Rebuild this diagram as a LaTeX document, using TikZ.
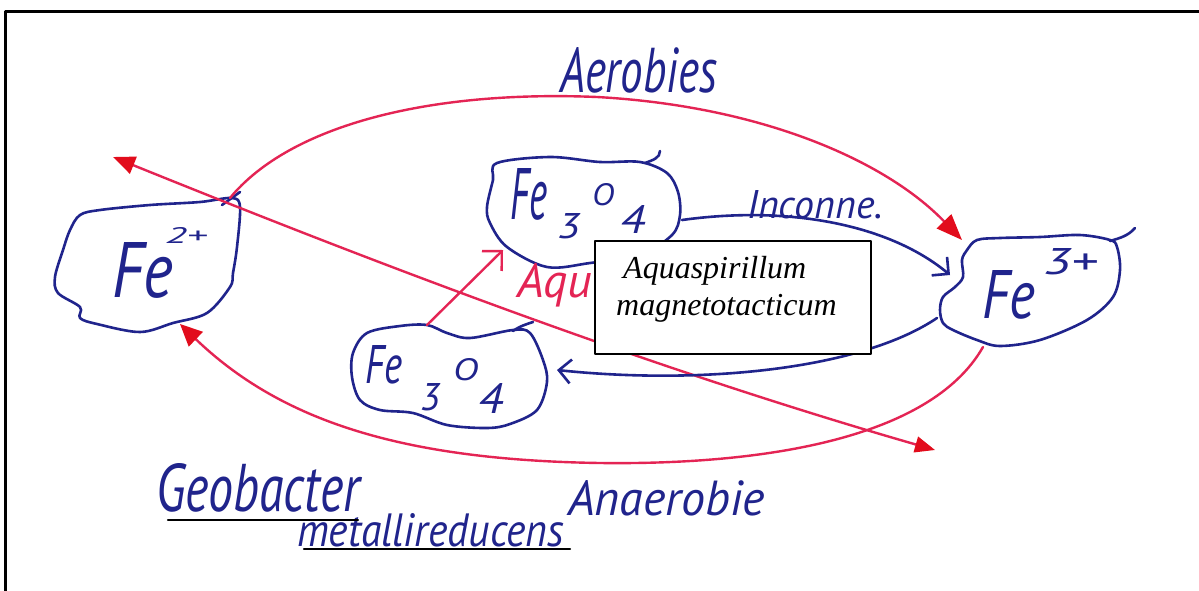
\documentclass[tikz,border=0pt]{standalone}
\usepackage{fontspec}
\usepackage{graphicx}
\usetikzlibrary{arrows.meta}
\newfontfamily\hwfont{PT Sans}
\newfontfamily\boxfont{Liberation Serif}
\definecolor{inkblue}{RGB}{32,36,140}
\definecolor{inkred}{RGB}{228,36,84}
\definecolor{headred}{RGB}{226,12,28}
\newcommand\hwbox[3]{\resizebox{#1}{#2}{\hwfont\itshape #3}}
\begin{document}
\begin{tikzpicture}[x=1pt,y=-1pt,line cap=round,line join=round,
  blob/.style={draw=inkblue,line width=2.6pt},
  hw/.style={inner sep=0pt,outer sep=0pt,anchor=base west,text=inkblue},
  redline/.style={draw=inkred,line width=2.4pt},
  bluline/.style={draw=inkblue,line width=2.6pt},
  fathead/.style={-{Triangle[length=26pt,width=20pt,color=headred]}},
  smallhead/.style={-{Triangle[length=22pt,width=20pt,color=headred]}},
  bothheads/.style={{Triangle[length=22pt,width=18pt,color=headred]}-{Triangle[length=20pt,width=16pt,color=headred]}},
  openhead/.style={-{Straight Barb[length=12pt,width=24pt]}},
  redopen/.style={-{Straight Barb[length=14pt,width=28pt]}},
  uline/.style={draw=black,line width=2.2pt}]
\clip (0,0) rectangle (1199,590);
\fill[white] (0,0) rectangle (1199,590);
\draw[line width=2.6pt] (5.5,11.5) rectangle (1220,610);

% ---------- blobs ----------
\draw[blob] plot[smooth cycle,tension=0.55] coordinates {(80,215) (100,210) (150,205) (200,202) (232,198) (240,207) (237,247) (233,273) (230,287) (207,313) (173,323) (140,332) (97,324) (80,318) (80,307) (58,293) (55,277) (63,250) (70,230)};
\draw[blob] (222,205) -- (240,192);

\draw[blob] plot[smooth cycle,tension=0.55] coordinates {(977,240) (1000,238) (1040,237) (1080,235) (1110,240) (1117,247) (1120,270) (1113,297) (1087,320) (1040,340) (1000,346) (977,340) (953,330) (943,323) (940,310) (943,297) (955,287) (963,277) (962,260) (967,250)};
\draw[blob] (1110,241) .. controls (1120,238) and (1128,236) .. (1135,228);

\draw[blob] plot[smooth cycle,tension=0.55] coordinates {(497,163) (550,157) (600,162) (640,162) (667,173) (678,192) (680,215) (672,235) (640,255) (590,263) (547,267) (507,247) (490,223) (487,207) (493,180)};
\draw[blob] (645,163) .. controls (653,160) and (660,158) .. (660,151);

\draw[blob] plot[smooth cycle,tension=0.55] coordinates {(367,333) (400,326) (427,325) (447,333) (470,338) (513,330) (530,333) (543,360) (547,382) (537,410) (510,424) (487,428) (447,425) (413,413) (380,410) (360,400) (352,377) (353,353)};
\draw[blob] (513,331) .. controls (520,326) and (527,324) .. (533,322);

% ---------- chemical labels ----------
\node[hw] (fe2) at (112,297) {\hwbox{61pt}{55pt}{Fe}};
\node[hw] (fe2c) at (165,243) {\hwbox{42pt}{16pt}{2+}};

\node[hw] (fe3) at (982,318) {\hwbox{53pt}{48pt}{Fe}};
\node[hw] (fe3c) at (1043,274) {\hwbox{54pt}{26pt}{3+}};

\node[hw] (magA) at (510,219) {\hwbox{37pt}{51pt}{Fe}};
\node[hw] (magA3) at (557,238) {\hwbox{23pt}{25pt}{3}};
\node[hw] (magAO) at (592,205) {\hwbox{22pt}{22pt}{O}};
\node[hw] (magA4) at (620,233) {\hwbox{25pt}{28pt}{4}};

\node[hw] (magB) at (365,383) {\hwbox{37pt}{38pt}{Fe}};
\node[hw] (magB3) at (420,410) {\hwbox{20pt}{27pt}{3}};
\node[hw] (magBO) at (453,380) {\hwbox{25pt}{22pt}{O}};
\node[hw] (magB4) at (478,413) {\hwbox{25pt}{30pt}{4}};

% ---------- connector end points ----------
\coordinate (fe2-ne) at (230,198);
\coordinate (fe2-s) at (180,324);
\coordinate (fe2-far) at (113,157);
\coordinate (fe3-n) at (962,240);
\coordinate (fe3-w) at (950,275);
\coordinate (fe3-sw) at (937,318);
\coordinate (fe3-s) at (983,347);
\coordinate (far-se) at (935,450);
\coordinate (magA-e) at (682,220);
\coordinate (magA-sw) at (503,250);
\coordinate (magB-n) at (427,325);
\coordinate (magB-e) at (557,370);

% ---------- red text partly hidden by the box ----------
\node[inner sep=0pt,anchor=base west,text=inkred] (aqred) at (517,297) {\fontsize{48}{48}\selectfont\hwfont\itshape Aqua};

% ---------- connectors ----------
\draw[redline,fathead] (fe2-ne) .. controls (290,125) and (430,90) .. (597,97) .. controls (760,106) and (885,160) .. (fe3-n);
\draw[redline,bothheads] (fe2-far) .. controls (380,265) and (650,368) .. (far-se);
\draw[redline,smallhead] (fe3-s) .. controls (930,440) and (760,465) .. (600,463) .. controls (400,460) and (280,420) .. (fe2-s);
\draw[redline,redopen] (magB-n) -- (magA-sw);
\draw[bluline,openhead] (magA-e) .. controls (790,205) and (890,225) .. (fe3-w);
\draw[bluline,openhead] (fe3-sw) .. controls (860,370) and (700,385) .. (magB-e);

% ---------- handwritten labels ----------
\node[hw] (aer) at (560,92) {\hwbox{157pt}{45pt}{Aerobies}};
\node[hw] (inc) at (747,218) {\hwbox{136pt}{28pt}{Inconne.}};
\node[hw] (geo) at (156,511) {\hwbox{204pt}{48pt}{Geobacter}};
\node[hw] (met) at (297,546) {\hwbox{267pt}{33pt}{metallireducens}};
\node[hw] (ana) at (568,515) {\hwbox{197pt}{35pt}{Anaerobie}};
\draw[uline] (168,520) -- (358,520);
\draw[uline] (304,549) -- (570,549);

% ---------- box ----------
\node[draw=black,fill=white,line width=2pt,anchor=north west,minimum width=276pt,minimum height=113pt,inner sep=0pt] (box) at (594,240) {};
\node[inner sep=0pt,anchor=base west] (box1) at (623,278) {\fontsize{32}{32}\selectfont\boxfont\itshape Aquaspirillum};
\node[inner sep=0pt,anchor=base west] (box2) at (616,315) {\fontsize{32}{32}\selectfont\boxfont\itshape magnetotacticum};
\end{tikzpicture}
\end{document}
